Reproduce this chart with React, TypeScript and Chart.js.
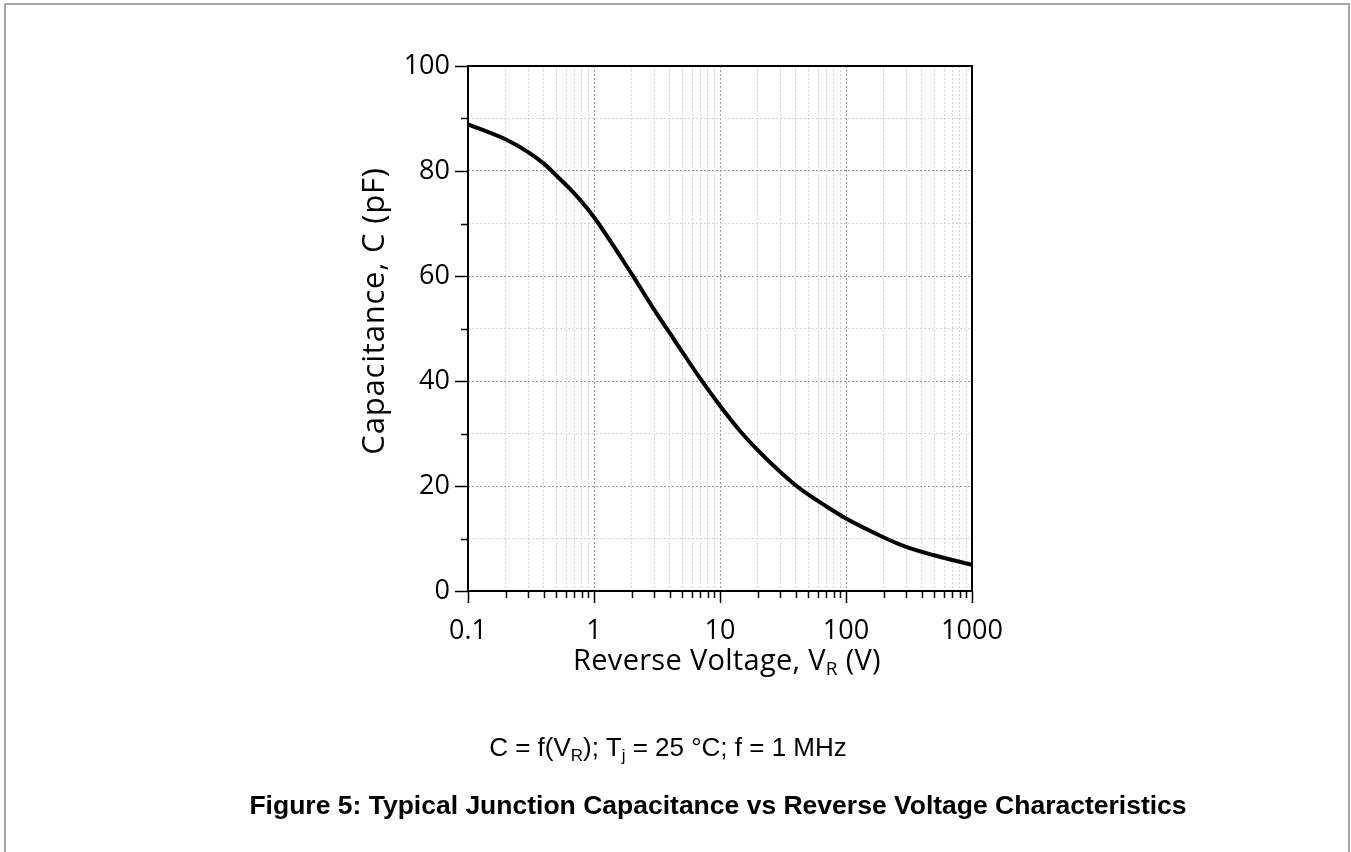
import React, { useEffect, useRef } from "react";
import { Chart, registerables } from "chart.js";

Chart.register(...registerables);

// Reverse voltage (V) and junction capacitance (pF)
const voltage = [0.1, 0.2, 0.3, 0.4, 0.5, 0.7, 1, 2, 3, 4, 5, 7, 10, 15, 20, 30, 40, 50, 70, 100, 200, 300, 500, 700, 1000];
const capacitance = [88.9, 86.0, 83.6, 81.4, 79.2, 75.7, 71.2, 60.3, 53.6, 49.1, 45.6, 40.4, 35.3, 30.0, 26.8, 22.7, 20.1, 18.4, 16.1, 13.8, 10.2, 8.4, 6.8, 5.9, 5.0];

// Axis ticks
const xTickValues = [
  0.1, 0.2, 0.3, 0.4, 0.5, 0.6, 0.7, 0.8, 0.9,
  1, 2, 3, 4, 5, 6, 7, 8, 9,
  10, 20, 30, 40, 50, 60, 70, 80, 90,
  100, 200, 300, 400, 500, 600, 700, 800, 900,
  1000,
];
const xMajorTicks = [0.1, 1, 10, 100, 1000];
const xTickLabels = ["0.1", "1", "10", "100", "1000"];
const yTickValues = [0, 10, 20, 30, 40, 50, 60, 70, 80, 90, 100];
const yMajorTicks = [0, 20, 40, 60, 80, 100];

const yTitle = "Capacitance, C (pF)";
const xTitleMain = "Reverse Voltage, V";
const xTitleSub = "R";
const xTitleEnd = " (V)";

const AXIS_FONT = "'Open Sans', Lato, sans-serif";

const framePlugin = {
  id: "framePlugin",
  afterDraw(chart: any) {
    const { ctx, chartArea: a, scales } = chart;
    const xs = scales.x;
    const ys = scales.y;
    ctx.save();
    ctx.strokeStyle = "#000";
    ctx.lineWidth = 1.5;
    ctx.beginPath();
    xs.ticks.forEach((t: any) => {
      const px = Math.round(xs.getPixelForValue(t.value)) + 0.5;
      const len = t.major ? 12 : 7;
      ctx.moveTo(px, a.bottom);
      ctx.lineTo(px, a.bottom + len);
    });
    ys.ticks.forEach((t: any) => {
      const py = Math.round(ys.getPixelForValue(t.value)) + 0.5;
      const len = t.major ? 13 : 7;
      ctx.moveTo(a.left - len, py);
      ctx.lineTo(a.left, py);
    });
    ctx.stroke();

    ctx.lineWidth = 2;
    ctx.strokeRect(a.left, a.top, a.right - a.left, a.bottom - a.top);

    // Y axis title
    ctx.fillStyle = "#000";
    ctx.font = `31px ${AXIS_FONT}`;
    try { ctx.letterSpacing = "0.8px"; } catch (e) {}
    ctx.textAlign = "center";
    ctx.textBaseline = "middle";
    ctx.save();
    ctx.translate(375, 311);
    ctx.rotate(-Math.PI / 2);
    ctx.fillText(yTitle, 0, 0);
    ctx.restore();

    // X axis title with subscript
    try { ctx.letterSpacing = "0.3px"; } catch (e) {}
    const mainFont = `29px ${AXIS_FONT}`;
    const subFont = `19px ${AXIS_FONT}`;
    ctx.textAlign = "left";
    ctx.textBaseline = "alphabetic";
    ctx.font = mainFont;
    const w1 = ctx.measureText(xTitleMain).width;
    const w3 = ctx.measureText(xTitleEnd).width;
    ctx.font = subFont;
    const w2 = ctx.measureText(xTitleSub).width;
    const total = w1 + w2 + w3;
    const cx = 727;
    const baseY = 670;
    const x0 = cx - total / 2;
    ctx.font = mainFont;
    ctx.fillText(xTitleMain, x0, baseY);
    ctx.font = subFont;
    ctx.fillText(xTitleSub, x0 + w1, baseY + 5);
    ctx.font = mainFont;
    ctx.fillText(xTitleEnd, x0 + w1 + w2, baseY);
    try { ctx.letterSpacing = "0px"; } catch (e) {}
    ctx.restore();
  },
};

function ChartCanvas() {
  const ref = useRef<HTMLCanvasElement | null>(null);
  useEffect(() => {
    if (!ref.current) return;
    const chart = new Chart(ref.current, {
      type: "line",
      data: {
        datasets: [
          {
            data: voltage.map((v, i) => ({ x: v, y: capacitance[i] })),
            borderColor: "#000",
            borderWidth: 4,
            pointRadius: 0,
            fill: false,
            cubicInterpolationMode: "monotone",
          },
        ],
      },
      options: {
        animation: false,
        responsive: false,
        maintainAspectRatio: false,
        events: [],
        layout: { padding: { left: 0, top: 66, right: 379, bottom: 201 } },
        plugins: { legend: { display: false }, tooltip: { enabled: false }, title: { display: false } },
        scales: {
          x: {
            type: "logarithmic",
            min: 0.1,
            max: 1000,
            afterBuildTicks: (scale: any) => {
              scale.ticks = xTickValues.map((v) => ({ value: v, major: xMajorTicks.includes(v) }));
            },
            afterFit: (scale: any) => {
              scale.height = 60;
            },
            ticks: {
              autoSkip: false,
              maxRotation: 0,
              minRotation: 0,
              padding: 24,
              color: "#000",
              font: { family: AXIS_FONT, size: 27 },
              callback: (value: any) => {
                const idx = xMajorTicks.indexOf(Number(value));
                return idx >= 0 ? xTickLabels[idx] : "";
              },
            },
            grid: {
              drawTicks: false,
              lineWidth: 1,
              color: (c: any) => (c.tick && c.tick.major ? "#9a9a9a" : "#d2d2d2"),
            },
            border: { display: false, dash: [2, 2] },
          },
          y: {
            type: "linear",
            min: 0,
            max: 100,
            afterBuildTicks: (scale: any) => {
              scale.ticks = yTickValues.map((v) => ({ value: v, major: yMajorTicks.includes(v) }));
            },
            afterFit: (scale: any) => {
              scale.width = 468;
            },
            ticks: {
              autoSkip: false,
              padding: 18,
              color: "#000",
              font: { family: AXIS_FONT, size: 27 },
              callback: (value: any) => (yMajorTicks.includes(Number(value)) ? String(value) : ""),
            },
            grid: {
              drawTicks: false,
              lineWidth: 1,
              color: (c: any) => (c.tick && c.tick.major ? "#9a9a9a" : "#d2d2d2"),
            },
            border: { display: false, dash: [2, 2] },
          },
        },
      },
      plugins: [framePlugin],
    } as any);
    return () => chart.destroy();
  }, []);
  return <canvas ref={ref} width={1351} height={852} style={{ position: "absolute", left: 0, top: 0, width: 1351, height: 852 }} />;
}

export default function App() {
  const textFont = "'Liberation Sans', Arial, sans-serif";
  const subStyle = { fontSize: 17, verticalAlign: "-5px", lineHeight: 0 };
  return (
    <div style={{ position: "absolute", left: 0, top: 0, width: 1351, height: 852, overflow: "hidden", background: "#fff" }}>
      <div
        style={{
          position: "absolute",
          left: 4,
          top: 3,
          width: 1342,
          height: 1000,
          border: "2px solid #a6a6a6",
          boxSizing: "content-box",
        }}
      />
      <ChartCanvas />
      <div
        style={{
          position: "absolute",
          left: 668 - 400,
          width: 800,
          top: 731,
          textAlign: "center",
          fontFamily: textFont,
          fontSize: 26,
          lineHeight: "32px",
          color: "#000",
        }}
      >
        C = f(V<sub style={subStyle}>R</sub>); T<sub style={subStyle}>j</sub> = 25 °C; f = 1 MHz
      </div>
      <div
        style={{
          position: "absolute",
          left: 718 - 650,
          width: 1300,
          top: 789,
          textAlign: "center",
          fontFamily: textFont,
          fontSize: 26.5,
          fontWeight: "bold",
          lineHeight: "32px",
          color: "#000",
        }}
      >
        Figure 5: Typical Junction Capacitance vs Reverse Voltage Characteristics
      </div>
    </div>
  );
}
